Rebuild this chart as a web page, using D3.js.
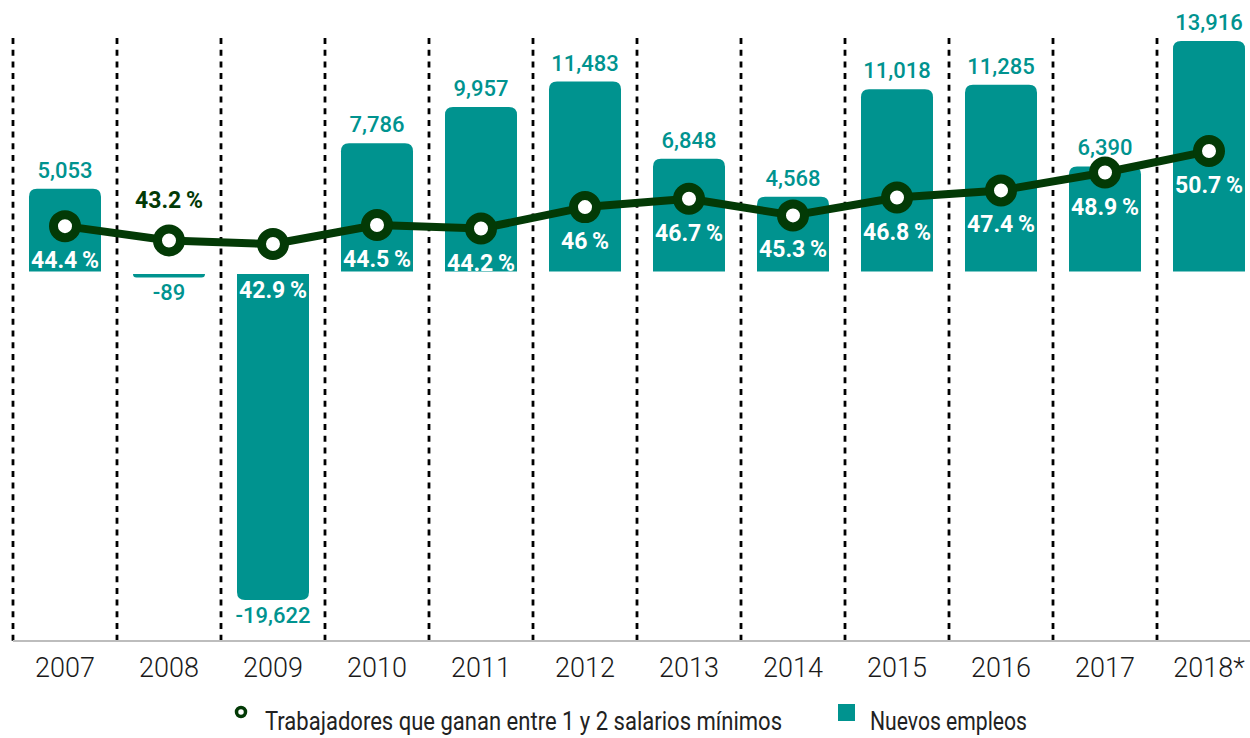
<!DOCTYPE html>
<html>
<head>
<meta charset="utf-8">
<script src="https://cdn.jsdelivr.net/npm/d3@7"></script>
<style>
  html, body { margin: 0; padding: 0; background: #fff; }
  svg { display: block; font-family: Roboto, "Noto Sans", sans-serif; }
</style>
</head>
<body>
<svg id="chart" width="1250" height="738"></svg>
<script>
// Years shown on the x axis
const years = ["2007", "2008", "2009", "2010", "2011", "2012", "2013", "2014", "2015", "2016", "2017", "2018*"];
// New jobs created each year (bars)
const nuevosEmpleos = [5053, -89, -19622, 7786, 9957, 11483, 6848, 4568, 11018, 11285, 6390, 13916];
// Share of workers earning between 1 and 2 minimum wages, % (line)
const trabajadores12 = [44.4, 43.2, 42.9, 44.5, 44.2, 46, 46.7, 45.3, 46.8, 47.4, 48.9, 50.7];

const TEAL = "#00938f";
const GREEN = "#033a06";

const svg = d3.select("#chart");

const x = d3.scaleBand()
  .domain(years)
  .range([13, 1261])
  .paddingInner(0.3077)
  .paddingOuter(0.1538);

const yBar = d3.scaleLinear()
  .domain([-19622, 13916])
  .range([600, 41]);

const yLine = d3.scaleLinear()
  .domain([40, 50])
  .range([278.6, 159.4]);

const y0 = yBar(0);
const bw = x.bandwidth();

// Dashed separators between years
svg.append("g")
  .selectAll("line")
  .data(years)
  .join("line")
  .attr("x1", d => x(d) - x.step() * x.paddingInner() / 2)
  .attr("x2", d => x(d) - x.step() * x.paddingInner() / 2)
  .attr("y1", 38)
  .attr("y2", 646)
  .attr("stroke", "#000")
  .attr("stroke-width", 2.8)
  .attr("stroke-dasharray", "6 5.7");

// Baseline axis
const axis = d3.axisBottom(x).tickSize(0).tickPadding(17);
const gAxis = svg.append("g")
  .attr("transform", `translate(0,641)`)
  .call(axis);
gAxis.select(".domain")
  .attr("d", "M13,0H1250")
  .attr("stroke", "#bdbdbd")
  .attr("stroke-width", 2);
gAxis.selectAll(".tick text")
  .attr("font-size", 27)
  .attr("font-family", "Roboto, sans-serif")
  .attr("font-weight", 300)
  .attr("fill", "#1a1a1a");

// Bars with rounded outer end
function barPath(d, i) {
  const left = x(years[i]);
  const r = 8;
  if (d >= 0) {
    const top = yBar(d);
    const bottom = y0 - 1.5;
    const rr = Math.min(r, (bottom - top) / 2);
    return `M${left},${bottom}V${top + rr}Q${left},${top} ${left + rr},${top}` +
           `H${left + bw - rr}Q${left + bw},${top} ${left + bw},${top + rr}V${bottom}Z`;
  } else {
    const top = y0 + 1;
    const bottom = Math.max(yBar(d), top + 3.5);
    const rr = Math.min(r, (bottom - top));
    return `M${left},${top}V${bottom - rr}Q${left},${bottom} ${left + rr},${bottom}` +
           `H${left + bw - rr}Q${left + bw},${bottom} ${left + bw},${bottom - rr}V${top}Z`;
  }
}

svg.append("g")
  .selectAll("path")
  .data(nuevosEmpleos)
  .join("path")
  .attr("d", barPath)
  .attr("fill", TEAL);

// Bar value labels
const fmt = d3.format(",");
svg.append("g")
  .selectAll("text")
  .data(nuevosEmpleos)
  .join("text")
  .attr("x", (d, i) => x(years[i]) + bw / 2)
  .attr("y", d => d >= 0 ? yBar(d) - 11 : Math.max(yBar(d), y0 + 4.5) + 23)
  .attr("text-anchor", "middle")
  .attr("font-size", 22)
  .attr("font-weight", 500)
  .attr("fill", TEAL)
  .text(d => d < 0 ? "-" + fmt(-d) : fmt(d));

// Line of percentages
const line = d3.line()
  .x((d, i) => x(years[i]) + bw / 2)
  .y(d => yLine(d));

svg.append("path")
  .datum(trabajadores12)
  .attr("d", line)
  .attr("fill", "none")
  .attr("stroke", GREEN)
  .attr("stroke-width", 8)
  .attr("stroke-linejoin", "round");

svg.append("g")
  .selectAll("circle")
  .data(trabajadores12)
  .join("circle")
  .attr("cx", (d, i) => x(years[i]) + bw / 2)
  .attr("cy", d => yLine(d))
  .attr("r", 11.5)
  .attr("fill", "#fff")
  .attr("stroke", GREEN)
  .attr("stroke-width", 9);

// Percentage labels
svg.append("g")
  .selectAll("text")
  .data(trabajadores12)
  .join("text")
  .attr("x", (d, i) => x(years[i]) + bw / 2)
  .attr("y", (d, i) => {
    const v = nuevosEmpleos[i];
    const py = yLine(d);
    if (v < 0 && yBar(v) - y0 < 30) return py - 32;
    if (v < 0) return y0 + 25;
    return py + 42;
  })
  .attr("text-anchor", "middle")
  .attr("font-size", 23)
  .attr("font-weight", 700)
  .attr("fill", (d, i) => {
    const v = nuevosEmpleos[i];
    return (v < 0 && yBar(v) - y0 < 30) ? GREEN : "#fff";
  })
  .text(d => d + "\u2009%");

// Legend
const legend = svg.append("g");
legend.append("circle")
  .attr("cx", 241)
  .attr("cy", 712)
  .attr("r", 4.5)
  .attr("fill", "#fff")
  .attr("stroke", GREEN)
  .attr("stroke-width", 3.5);
legend.append("text")
  .attr("x", 265)
  .attr("y", 730)
  .attr("font-size", 25)
  .attr("fill", "#222")
  .attr("textLength", 517)
  .attr("lengthAdjust", "spacingAndGlyphs")
  .text("Trabajadores que ganan entre 1 y 2 salarios mínimos");
legend.append("rect")
  .attr("x", 838)
  .attr("y", 704)
  .attr("width", 17)
  .attr("height", 17)
  .attr("fill", TEAL);
legend.append("text")
  .attr("x", 870)
  .attr("y", 730)
  .attr("font-size", 25)
  .attr("fill", "#222")
  .attr("textLength", 157)
  .attr("lengthAdjust", "spacingAndGlyphs")
  .text("Nuevos empleos");
</script>
</body>
</html>
